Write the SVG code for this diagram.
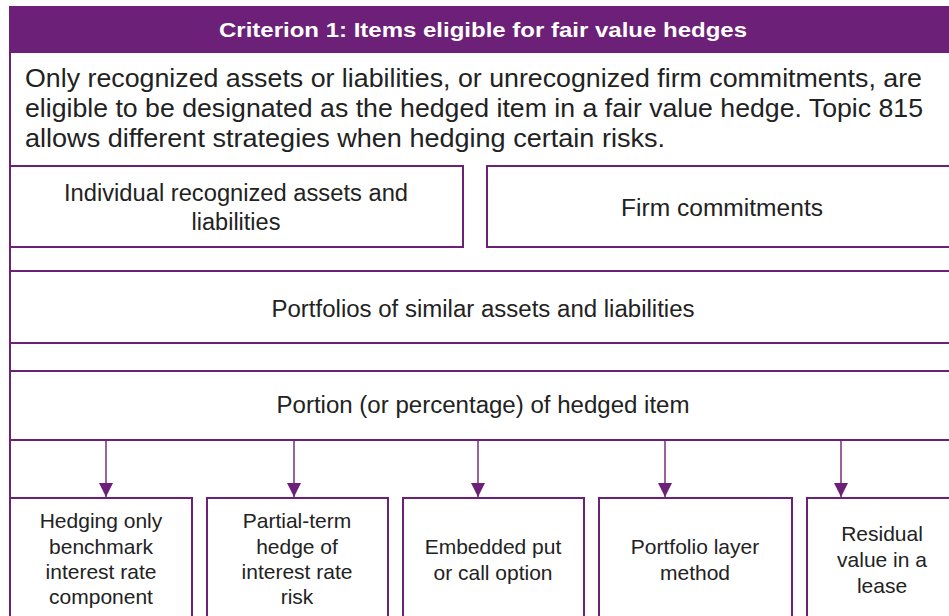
<svg xmlns="http://www.w3.org/2000/svg" width="949" height="616" viewBox="0 0 949 616">
  <defs>
    <style>
      .box { fill: #ffffff; stroke: #6d2077; stroke-width: 2; }
      .frame { fill: none; stroke: #6d2077; stroke-width: 2; }
      .txt { font-family: "Liberation Sans", Arial, sans-serif; fill: #222222; text-anchor: middle; }
      .lbl { font-size: 21px; }
      .big { font-size: 23.5px; }
      .body { font-size: 25px; text-anchor: start; }
      .hdr { font-family: "Liberation Sans", Arial, sans-serif; font-size: 21px; font-weight: bold; fill: #ffffff; text-anchor: middle; }
      .conn { stroke: #6d2077; stroke-width: 1.4; fill: none; }
    </style>
    <marker id="arrow" viewBox="0 0 14 14" refX="14" refY="7" markerWidth="14" markerHeight="14" markerUnits="userSpaceOnUse" orient="auto">
      <path d="M0,0 L14,7 L0,14 Z" fill="#6d2077"/>
    </marker>
  </defs>
  <rect width="949" height="616" fill="#ffffff"/>

  <g id="frame">
    <line class="frame" x1="10" y1="6" x2="10" y2="616"/>
  </g>

  <g id="header">
    <rect x="9" y="6" width="945" height="47" fill="#6d2077"/>
    <text class="hdr" x="483" y="37" textLength="528" lengthAdjust="spacingAndGlyphs">Criterion 1: Items eligible for fair value hedges</text>
  </g>

  <g id="description">
    <text class="txt body" x="25" y="87" textLength="897" lengthAdjust="spacingAndGlyphs">Only recognized assets or liabilities, or unrecognized firm commitments, are</text>
    <text class="txt body" x="25" y="117" textLength="898" lengthAdjust="spacingAndGlyphs">eligible to be designated as the hedged item in a fair value hedge. Topic 815</text>
    <text class="txt body" x="25" y="147" textLength="640" lengthAdjust="spacingAndGlyphs">allows different strategies when hedging certain risks.</text>
  </g>

  <g id="individual">
    <rect class="box" x="10" y="166" width="453" height="81"/>
    <text class="txt big" x="236" y="201" textLength="344" lengthAdjust="spacingAndGlyphs">Individual recognized assets and</text>
    <text class="txt big" x="236" y="230">liabilities</text>
  </g>

  <g id="firm">
    <rect class="box" x="487" y="166" width="470" height="81"/>
    <text class="txt big" x="722" y="216" textLength="202" lengthAdjust="spacingAndGlyphs">Firm commitments</text>
  </g>

  <g id="portfolios">
    <rect class="box" x="10" y="271" width="950" height="72"/>
    <text class="txt big" x="483" y="317" textLength="423" lengthAdjust="spacingAndGlyphs">Portfolios of similar assets and liabilities</text>
  </g>

  <g id="portion">
    <rect class="box" x="10" y="371" width="950" height="69"/>
    <text class="txt big" x="483" y="413" textLength="413" lengthAdjust="spacingAndGlyphs">Portion (or percentage) of hedged item</text>
  </g>

  <g id="connectors">
    <line class="conn" x1="106" y1="440" x2="106" y2="497" marker-end="url(#arrow)"/>
    <line class="conn" x1="294" y1="440" x2="294" y2="497" marker-end="url(#arrow)"/>
    <line class="conn" x1="478" y1="440" x2="478" y2="497" marker-end="url(#arrow)"/>
    <line class="conn" x1="665" y1="440" x2="665" y2="497" marker-end="url(#arrow)"/>
    <line class="conn" x1="841" y1="440" x2="841" y2="497" marker-end="url(#arrow)"/>
  </g>

  <g id="benchmark">
    <rect class="box" x="10" y="498" width="182" height="130"/>
    <text class="txt lbl" x="101" y="528">Hedging only</text>
    <text class="txt lbl" x="101" y="554">benchmark</text>
    <text class="txt lbl" x="101" y="579">interest rate</text>
    <text class="txt lbl" x="101" y="604">component</text>
  </g>

  <g id="partial-term">
    <rect class="box" x="207" y="498" width="181" height="130"/>
    <text class="txt lbl" x="297" y="528">Partial-term</text>
    <text class="txt lbl" x="297" y="554">hedge of</text>
    <text class="txt lbl" x="297" y="579">interest rate</text>
    <text class="txt lbl" x="297" y="604">risk</text>
  </g>

  <g id="embedded">
    <rect class="box" x="403" y="498" width="181" height="130"/>
    <text class="txt lbl" x="493" y="554">Embedded put</text>
    <text class="txt lbl" x="493" y="580">or call option</text>
  </g>

  <g id="portfolio-layer">
    <rect class="box" x="599" y="498" width="193" height="130"/>
    <text class="txt lbl" x="695" y="554">Portfolio layer</text>
    <text class="txt lbl" x="695" y="580">method</text>
  </g>

  <g id="residual">
    <rect class="box" x="807" y="498" width="150" height="130"/>
    <text class="txt lbl" x="882" y="541">Residual</text>
    <text class="txt lbl" x="882" y="567">value in a</text>
    <text class="txt lbl" x="882" y="593">lease</text>
  </g>
</svg>
